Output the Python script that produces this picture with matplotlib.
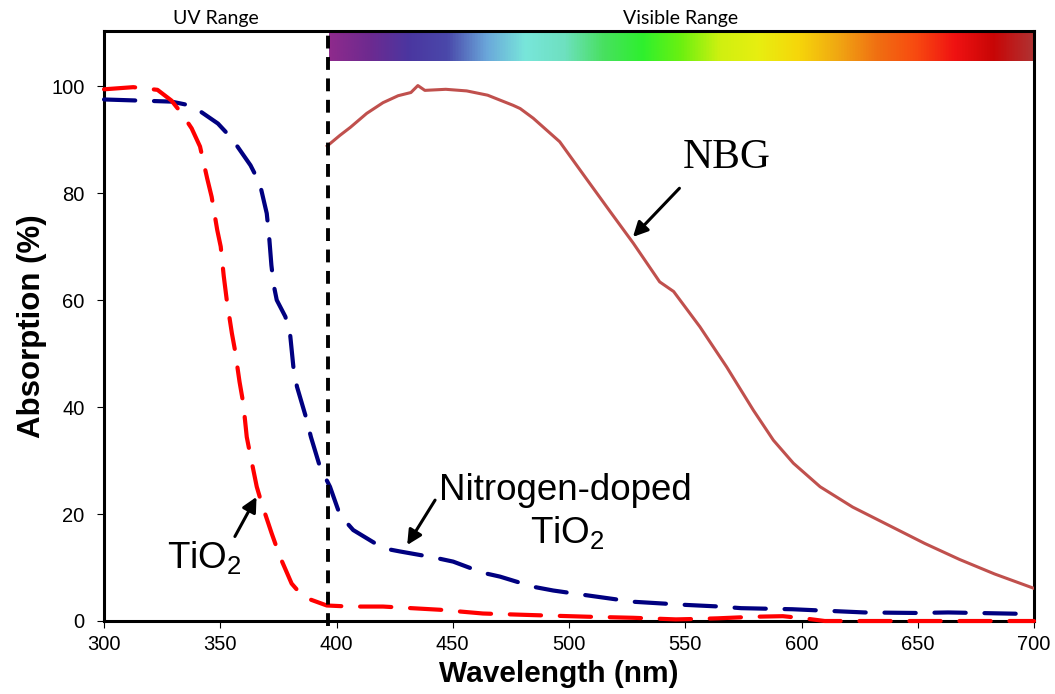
import numpy as np
import matplotlib
matplotlib.use('Agg')
import matplotlib.pyplot as plt
from matplotlib.colors import LinearSegmentedColormap

# NBG absorption (solid)
nbg_wl = [396, 401.5, 406, 413, 420, 426.5, 432, 435, 438, 447, 456, 465, 476, 479,
          484.6, 496, 507.6, 517.6, 527.7, 539, 545, 556.3, 567.8, 579.3, 587.9, 596.5,
          608, 622, 637.5, 653, 668, 683, 700]
nbg_abs = [88.8, 90.8, 92.3, 94.9, 96.9, 98.2, 98.8, 100.1, 99.2, 99.4, 99.1, 98.3, 96.4,
           95.8, 94.0, 89.6, 82.6, 76.6, 70.6, 63.4, 61.6, 55.0, 47.5, 39.4, 33.8, 29.5,
           25.1, 21.3, 17.9, 14.5, 11.5, 8.8, 6.1]

# nitrogen-doped TiO2 (blue dashed)
nd_wl = [300, 329, 338, 349, 355, 363, 367, 370, 371, 372, 373, 374.3, 378, 380, 381.5,
         383, 387, 389, 392.9, 397.2, 401.5, 407.2, 420.1, 427.3, 441.6, 450.2, 463.1,
         470.3, 484.6, 493.2, 506.1, 527.6, 550.6, 565, 574, 596, 627, 650, 663, 700]
nd_abs = [97.5, 97.1, 96.3, 93.0, 90.2, 85.2, 81.8, 76.2, 72.0, 66.5, 62.8, 60.0, 56.9,
          53.8, 47.3, 43.8, 37.9, 34.4, 28.8, 25.1, 19.8, 17.0, 13.6, 13.0, 11.9, 11.1,
          9.0, 8.3, 6.4, 5.7, 4.9, 3.6, 3.0, 2.7, 2.4, 2.2, 1.6, 1.5, 1.6, 1.3]

# TiO2 (red dashed)
t_wl = [300, 312.6, 323, 329, 333.4, 337.7, 341.3, 344.4, 346.3, 348.7, 350.2, 351.5,
        352.8, 355, 356.3, 358.3, 359.9, 361.4, 362.8, 365.7, 367.8, 372.1, 375.7, 380.7,
        385.7, 395.8, 405.8, 420, 444.5, 463, 484.6, 508, 527.6, 546, 556, 564, 580,
        592, 601, 610, 650, 700]
t_abs = [99.4, 99.8, 99.3, 97.3, 94.9, 92.1, 88.7, 82.7, 79.3, 73.1, 70.0, 64.5, 60.0,
         53.8, 50.7, 44.7, 40.7, 34.4, 31.3, 25.1, 22.0, 16.4, 12.0, 7.0, 4.5, 2.9, 2.7,
         2.7, 2.1, 1.4, 1.1, 0.8, 0.6, 0.3, 0.4, 0.5, 0.8, 0.9, 0.5, 0.0, 0.0, 0.0]

uv_edge = 396.5
spectrum = ['#8e2a8c', '#6e2a90', '#4b36a0', '#4a48aa', '#6aa6da', '#78e6da', '#6ee0c0',
            '#48e060', '#2ef02e', '#6cf010', '#d0f010', '#e8ee10', '#f6d60a', '#f0a812',
            '#f07012', '#f84a10', '#f01212', '#c80606', '#b03232']

plt.rcParams['font.family'] = ['Liberation Sans', 'DejaVu Sans']
plt.rcParams['mathtext.default'] = 'regular'

fig = plt.figure(figsize=(10.55, 6.94), dpi=100)
ax = fig.add_axes([104/1055, 1-621/694, 930/1055, 590/694])

ax.plot(nbg_wl, nbg_abs, color='#c0504d', lw=2.2, zorder=3)
ax.plot(nd_wl, nd_abs, color='#000080', lw=3.0, dashes=(7.5, 4.5),
        dash_capstyle='round', zorder=3, clip_on=False)
ax.plot(t_wl, t_abs, color='#ff0000', lw=3.0, dashes=(7.5, 4.5),
        dash_capstyle='round', zorder=3, clip_on=False)

ax.axvline(uv_edge, ymin=-0.008, ymax=0.995, color='black', lw=2.8,
           dashes=(3.3, 2.2), zorder=4, clip_on=False)

ymax = 110.3
cmap = LinearSegmentedColormap.from_list('spec', spectrum)
grad = np.linspace(0, 1, 512).reshape(1, -1)
ax.imshow(grad, cmap=cmap, aspect='auto', extent=[uv_edge + 0.3, 700, 104.7, ymax],
          zorder=2, interpolation='bilinear')

ax.set_xlim(300, 700)
ax.set_ylim(0, ymax)
ax.set_xticks(np.arange(300, 701, 50))
ax.set_yticks(np.arange(0, 101, 20))
ax.tick_params(axis='both', direction='out', length=5, width=0.8, labelsize=14.5)
ax.tick_params(axis='y', pad=9)
ax.tick_params(axis='x', pad=5)
for s in ax.spines.values():
    s.set_linewidth(2.2)

ax.set_xlabel('Wavelength (nm)', fontsize=21.5, fontweight='bold')
ax.set_ylabel('Absorption (%)', fontsize=22.5, fontweight='bold')
ax.xaxis.set_label_coords(0.489, -0.066)
ax.yaxis.set_label_coords(-0.061, 0.5)

ax.text(348, ymax + 2.4, 'UV Range', ha='center', va='center',
        family=['Lato', 'DejaVu Sans'], fontsize=14)
ax.text(548, ymax + 2.4, 'Visible Range', ha='center', va='center',
        family=['Lato', 'DejaVu Sans'], fontsize=14)

arrow = dict(arrowstyle='-|>', color='black', lw=2.2, mutation_scale=22,
             shrinkA=0, shrinkB=0)
ax.annotate('', xy=(527.5, 71.8), xytext=(547.5, 80.9), arrowprops=arrow)
ax.text(567.8, 84.6, 'NBG', family=['Liberation Serif', 'DejaVu Serif'],
        fontsize=30, ha='center', va='baseline')

ax.annotate('', xy=(430.4, 14.2), xytext=(442.4, 22.6), arrowprops=arrow)
ax.text(498.3, 22.6, 'Nitrogen-doped', fontsize=26.5, ha='center', va='baseline')
ax.text(499.4, 14.6, 'TiO$_2$', fontsize=26.5, ha='center', va='baseline')

ax.annotate('', xy=(365.6, 23.2), xytext=(356.3, 15.8), arrowprops=arrow)
ax.text(343.2, 9.85, 'TiO$_2$', fontsize=26.5, ha='center', va='baseline')

fig.savefig('out.png', dpi=100)
